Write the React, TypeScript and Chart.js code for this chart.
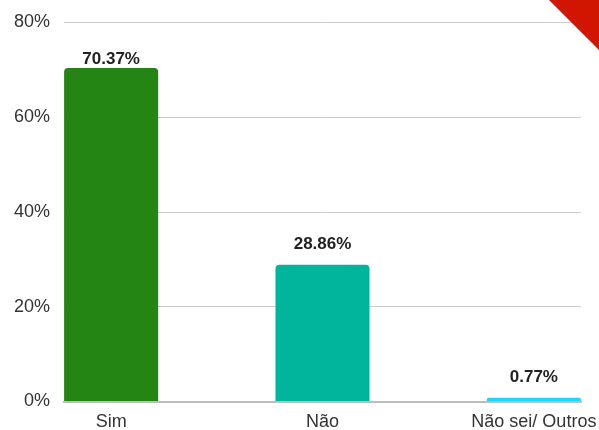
import React, { useEffect, useRef } from "react";
import { Chart, registerables } from "chart.js";

Chart.register(...registerables);

const categories = ["Sim", "Não", "Não sei/ Outros"];
const values = [70.37, 28.86, 0.77];
const barColors = ["#248514", "#00b59b", "#1ad8fd"];
const yTicks = [0, 20, 40, 60, 80];

const valueLabels = {
  id: "valueLabels",
  afterDatasetsDraw(chart: any) {
    const { ctx, chartArea } = chart;
    const meta = chart.getDatasetMeta(0);
    ctx.save();
    ctx.font = "bold 17px 'Liberation Sans', Arial, sans-serif";
    ctx.fillStyle = "#222222";
    ctx.textAlign = "center";
    ctx.textBaseline = "alphabetic";
    meta.data.forEach((bar: any, i: number) => {
      const y = Math.max(bar.y - 16, chartArea.top + 41.5);
      ctx.fillText(values[i].toFixed(2) + "%", bar.x, y);
    });
    ctx.restore();
  },
};

const cornerRibbon = {
  id: "cornerRibbon",
  afterDraw(chart: any) {
    const { ctx, width } = chart;
    ctx.save();
    ctx.fillStyle = "#d01500";
    ctx.beginPath();
    ctx.moveTo(width - 50, 0);
    ctx.lineTo(width, 0);
    ctx.lineTo(width, 50);
    ctx.closePath();
    ctx.fill();
    ctx.restore();
  },
};

export default function App() {
  const ref = useRef<HTMLCanvasElement | null>(null);
  useEffect(() => {
    document.body.style.margin = "0";
    if (!ref.current) return;
    const chart = new Chart(ref.current, {
      type: "bar",
      data: {
        datasets: [
          {
            data: values.map((v, i) => ({ x: i, y: v })),
            backgroundColor: barColors,
            borderRadius: 4,
            categoryPercentage: 1,
            barPercentage: 0.445,
          },
        ],
      },
      options: {
        animation: false,
        responsive: false,
        maintainAspectRatio: false,
        layout: { padding: { top: 22.5, right: 18, left: 0, bottom: 0 } },
        plugins: { legend: { display: false }, tooltip: { enabled: false } },
        scales: {
          x: {
            type: "linear",
            min: -0.223,
            max: 2.223,
            offset: false,
            grid: { display: false, drawTicks: false, offset: false },
            border: { display: true, color: "#bdbdbd", width: 2 },
            afterFit: (s: any) => {
              s.height = 28.5;
              s.paddingLeft = 0;
              s.paddingRight = 0;
            },
            ticks: {
              stepSize: 1,
              includeBounds: false,
              autoSkip: false,
              maxRotation: 0,
              padding: 10,
              color: "#333333",
              font: { size: 18, family: "'Liberation Sans', Arial, sans-serif" },
              callback: (v: any) => categories[v] ?? "",
            },
          },
          y: {
            min: 0,
            max: 80,
            afterBuildTicks: (s: any) => {
              s.ticks = yTicks.map((v) => ({ value: v }));
            },
            afterFit: (s: any) => {
              s.width = 64;
              s.paddingTop = 0;
              s.paddingBottom = 0;
            },
            grid: { color: "#cccccc", lineWidth: 1, drawTicks: false },
            border: { display: false },
            ticks: {
              padding: 14,
              color: "#333333",
              font: { size: 18, family: "'Liberation Sans', Arial, sans-serif" },
              callback: (v: any) => v + "%",
            },
          },
        },
      },
      plugins: [valueLabels, cornerRibbon],
    });
    return () => chart.destroy();
  }, []);
  return (
    <div style={{ width: 599, height: 430 }}>
      <canvas ref={ref} width={599} height={430} style={{ display: "block" }} />
    </div>
  );
}
